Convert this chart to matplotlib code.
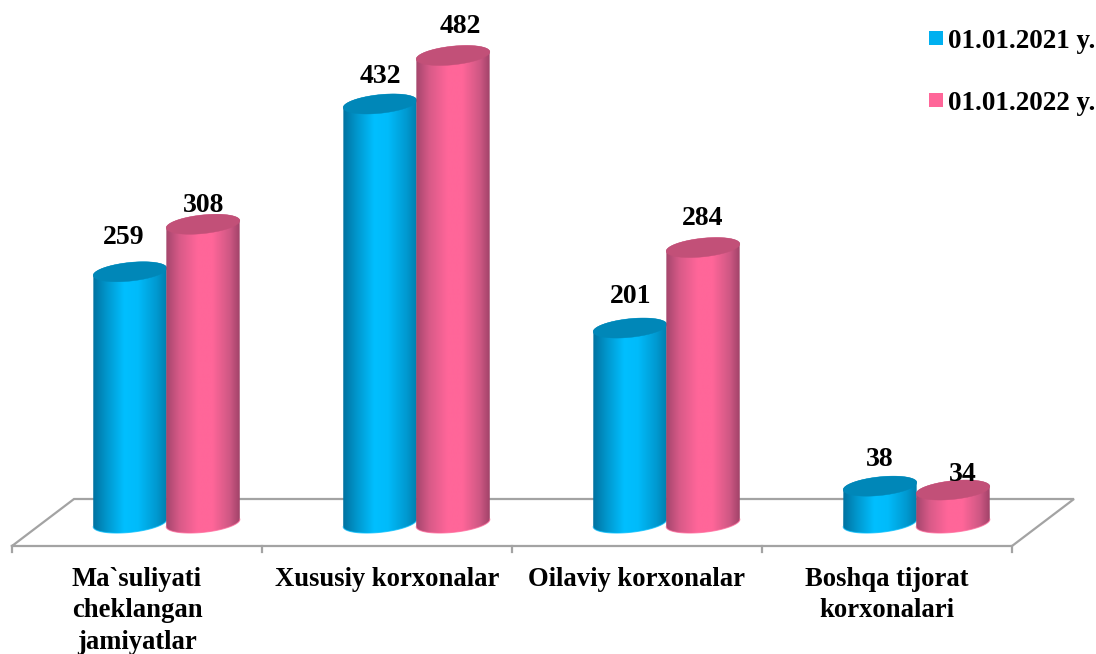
import numpy as np
import matplotlib
matplotlib.use("Agg")
import matplotlib.pyplot as plt
from matplotlib.colors import LinearSegmentedColormap
from matplotlib.lines import Line2D
from matplotlib.patches import Polygon

categories = ["Ma`suliyati\ncheklangan\njamiyatlar", "Xususiy korxonalar",
              "Oilaviy korxonalar", "Boshqa tijorat\nkorxonalari"]
series_names = ["01.01.2021 y.", "01.01.2022 y."]
values_2021 = [259, 432, 201, 38]
values_2022 = [308, 482, 284, 34]
label_offsets_2021 = [(-6, 34), (0, 27), (1, 32), (0, 27)]
label_offsets_2022 = [(1, 19), (7, 29), (0, 29), (10, 16)]

W, H = 1096, 654
PX_PER_CAT = 250.0
PX_PER_VAL = 0.97
X0_PX, Y0_PX = 12.0, 523.0
FONT = ["Liberation Serif", "DejaVu Serif"]

fig = plt.figure(figsize=(W / 100, H / 100), dpi=100)
ax = fig.add_axes([0, 0, 1, 1])
ax.set_axis_off()
xlim = (-X0_PX / PX_PER_CAT, (W - X0_PX) / PX_PER_CAT)
ylim = ((Y0_PX - H) / PX_PER_VAL, Y0_PX / PX_PER_VAL)

DX, DY = 1 / PX_PER_CAT, 1 / PX_PER_VAL
floor_col = "#a3a3a3"
# floor of the 3-D plot, in axis units
front = -23 * DY
back = 24 * DY
depth = 62 * DX
n = len(categories)
ax.plot([0, n, n + depth, depth, 0], [front, front, back, back, front],
        color=floor_col, lw=1.6, zorder=1, solid_joinstyle="miter")
for i in range(n + 1):
    ax.plot([i, i], [front, front - 6 * DY], color=floor_col, lw=1.6, zorder=1)

A, B, TH = 37.0, 9.3, np.deg2rad(6.0)


def ellipse(cx, cy, t):
    x = A * np.cos(t) * np.cos(TH) - B * np.sin(t) * np.sin(TH)
    y = A * np.cos(t) * np.sin(TH) + B * np.sin(t) * np.cos(TH)
    return cx + x * DX, cy + y * DY


blue = LinearSegmentedColormap.from_list("b", [
    (0, "#0072a0"), (0.18, "#0096cc"), (0.42, "#00bfff"), (0.6, "#00bbfa"),
    (0.85, "#0099d0"), (1, "#007cab")])
pink = LinearSegmentedColormap.from_list("p", [
    (0, "#a4466c"), (0.18, "#d85a88"), (0.42, "#ff6699"), (0.62, "#ff6699"),
    (0.85, "#cf5884"), (1, "#9c4066")])
grad = np.linspace(0, 1, 256)[None, :]
z = 2


def cylinder(cx, val, cmap, top_col):
    global z
    tb = np.linspace(np.pi, 2 * np.pi, 80)     # lower half of base
    ta = np.linspace(0, 2 * np.pi, 160)
    xb, yb = ellipse(cx, 0, tb)
    xr, yr = ellipse(cx, val, np.linspace(-0.12, np.pi - 0.12, 80))
    verts = np.vstack([np.column_stack([xb, yb]), np.column_stack([xr, yr]),
                       [[xb[0], yb[0]]]])
    half = A * np.cos(TH) * DX * 1.01
    im = ax.imshow(grad, cmap=cmap, extent=[cx - half, cx + half, -20, val + 20],
                   aspect="auto", zorder=z, interpolation="bilinear")
    body = Polygon(verts, closed=True, transform=ax.transData, fc="none", ec="none")
    ax.add_patch(body)
    im.set_clip_path(body)
    # soft outline along the base, hides the jagged clip edge
    ax.plot(xb, yb, color=cmap(0.5), lw=0.8, zorder=z, alpha=0.7)
    xt, yt = ellipse(cx, val, ta)
    ax.fill(xt, yt, color=top_col, lw=0.3, zorder=z + 0.5)
    z += 1


offset = 0.618
half_w = 36.5 * DX
pos_1 = [i + offset - half_w for i in range(n)]
pos_2 = [i + offset + half_w for i in range(n)]
for x1, x2, v1, v2, o1, o2 in zip(pos_1, pos_2, values_2021, values_2022,
                                  label_offsets_2021, label_offsets_2022):
    cylinder(x1, v1, blue, "#0087b8")
    cylinder(x2, v2, pink, "#c25078")
    for x, v, o in ((x1, v1, o1), (x2, v2, o2)):
        ax.annotate(str(v), (x, v), xytext=(o[0] * 0.72, o[1] * 0.72),
                    textcoords="offset points", ha="center", va="center",
                    family=FONT, fontweight="bold", fontsize=20,
                    color="black", zorder=50)

for i, c in enumerate(categories):
    ax.text(i + 0.5, -44 * DY, c, ha="center", va="top", family=FONT,
            fontweight="bold", fontsize=19.2, linespacing=1.33, color="black")

handles = [Line2D([], [], ls="", marker="s", ms=10, color=col, mew=0)
           for col in ("#00b0f0", "#ff6699")]
ax.legend(handles, series_names, loc="upper left", frameon=False,
          bbox_to_anchor=(925 / W, 1 - 28.5 / H), bbox_transform=fig.transFigure,
          prop={"family": FONT, "weight": "bold", "size": 19.5},
          labelspacing=1.38, handlelength=0.8, handletextpad=0.05,
          borderpad=0, borderaxespad=0)

ax.set_xlim(*xlim)
ax.set_ylim(*ylim)
fig.savefig("out.png", dpi=100)
